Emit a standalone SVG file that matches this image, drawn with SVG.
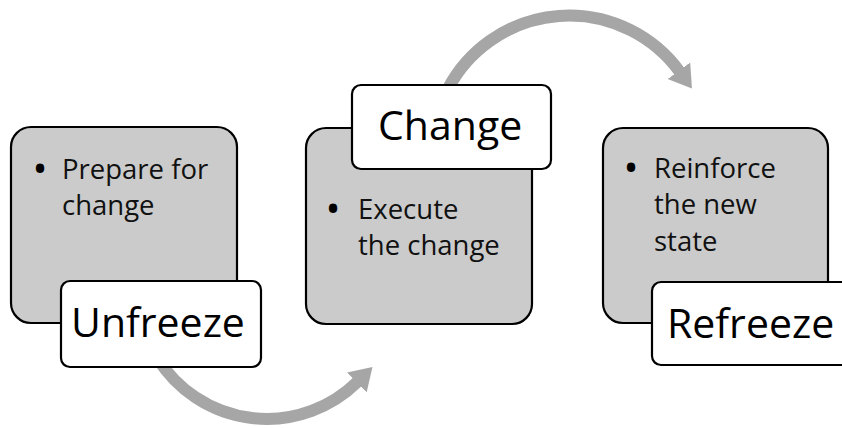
<svg xmlns="http://www.w3.org/2000/svg" width="842" height="428" viewBox="0 0 842 428">
<defs>
<style>
.panel{fill:#cbcbcb;stroke:#000;stroke-width:2.2}
.label{fill:#fff;stroke:#000;stroke-width:2.2}
.body{font-family:"Open Sans","Noto Sans","Liberation Sans",sans-serif;font-size:27.5px;fill:#111}
.dot{font-family:"Open Sans","Noto Sans","Liberation Sans",sans-serif;font-size:40px;fill:#000}
.head{font-family:"Open Sans","Noto Sans","Liberation Sans",sans-serif;font-size:41px;fill:#000}
.arc{fill:none;stroke:#a6a6a6;stroke-width:12}
</style>
<marker id="ah" markerUnits="userSpaceOnUse" markerWidth="24" markerHeight="30" viewBox="0 -15 24 30" refX="1" refY="0" orient="auto">
<path d="M0,-14 L22,0 L0,14 Z" fill="#a6a6a6"/>
</marker>
</defs>
<rect width="842" height="428" fill="#fff"/>
<g id="connectors">
<path class="arc" d="M157.6 358.4 A129 129 0 0 0 357.5 381.8" marker-end="url(#ah)"/>
<path class="arc" d="M447.9 88.8 A137 137 0 0 1 679.5 71.5" marker-end="url(#ah)"/>
</g>
<g id="unfreeze">
<rect class="panel" x="11" y="127" width="226" height="196" rx="20"/>
<text class="dot" x="32.5" y="183">•</text>
<text class="body" x="62" y="179">Prepare for</text>
<text class="body" x="62" y="215">change</text>
<rect class="label" x="61" y="281" width="200" height="86" rx="9"/>
<text class="head" x="71" y="337">Unfreeze</text>
</g>
<g id="change">
<rect class="panel" x="306" y="128" width="226" height="196" rx="20"/>
<rect class="label" x="352" y="85" width="199" height="84" rx="9"/>
<text class="head" x="378" y="140">Change</text>
<text class="dot" x="325.5" y="223">•</text>
<text class="body" x="358" y="219">Execute</text>
<text class="body" x="358" y="255">the change</text>
</g>
<g id="refreeze">
<rect class="panel" x="603" y="128" width="225" height="195" rx="20"/>
<text class="dot" x="623.5" y="182">•</text>
<text class="body" x="654" y="178">Reinforce</text>
<text class="body" x="654" y="214">the new</text>
<text class="body" x="654" y="251">state</text>
<rect class="label" x="652" y="282" width="210" height="83" rx="9"/>
<text class="head" x="667" y="338">Refreeze</text>
</g>
</svg>
